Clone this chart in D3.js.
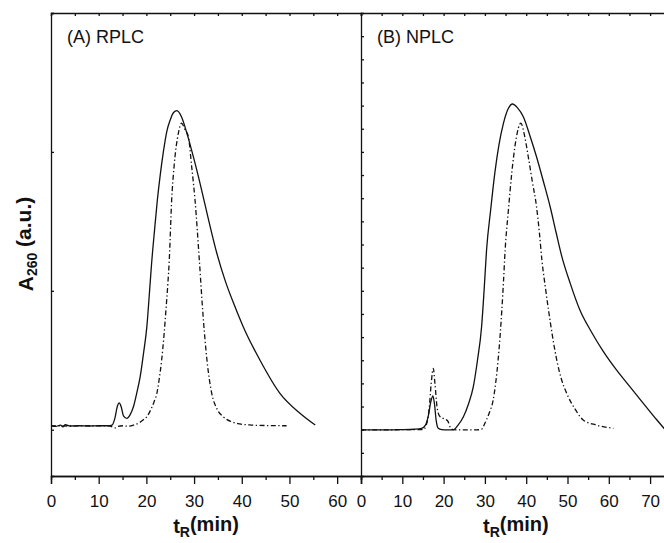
<!DOCTYPE html>
<html>
<head>
<meta charset="utf-8">
<script src="https://cdn.jsdelivr.net/npm/d3@7"></script>
<style>
  body { margin: 0; background: #fff; }
  text { font-family: "Liberation Sans", Arial, sans-serif; fill: #111; }
</style>
</head>
<body>
<div id="myplot"></div>
<script>
// chromatogram traces, [t_R (min), A260 (a.u.)]
var rplcSolid = [[0,2.18],[1,2.14],[2,2.2],[2.5,2.12],[3,2.22],[4,2.16],[6,2.17],[8,2.16],[10,2.17],[12,2.17],
  [12.8,2.2],[13.4,2.5],[13.9,3.0],[14.3,3.16],[14.7,3.0],[15.2,2.6],[15.9,2.49],[16.6,2.65],[17.3,3.0],[18,3.6],
  [18.7,4.29],[19.4,5.3],[20.1,6.45],[20.6,7.8],[21.1,9.2],[21.7,10.6],[22.3,11.92],[22.9,13.0],[23.56,14.0],
  [24.3,14.9],[25.0,15.38],[25.7,15.7],[26.4,15.78],[27.4,15.5],[28.5,14.8],[29.9,13.75],[31.3,12.6],[33.0,11.1],
  [34.8,9.6],[36.5,8.45],[38.5,7.35],[40.3,6.45],[43.8,5.01],[48.0,3.57],[52.2,2.71],[55.4,2.2]];
var rplcDash = [[0,2.17],[4,2.16],[8,2.17],[12.4,2.16],[13,2.1],[13.5,2.08],[14,2.14],[15,2.17],[16,2.15],
  [17.3,2.2],[18.5,2.3],[19.5,2.45],[20.1,2.56],[21,2.9],[21.6,3.2],[22.2,3.57],[22.7,4.2],[23.2,5.01],[23.7,6.1],
  [24.1,7.17],[24.5,8.3],[24.8,9.33],[25.3,11.92],[25.8,13.36],[26.7,14.8],[27.4,15.24],[28.0,15.0],[28.8,14.66],
  [29.5,13.36],[30.2,11.92],[31.1,9.33],[31.8,7.17],[32.7,5.01],[33.7,3.57],[34.8,2.9],[36.1,2.56],[37.8,2.35],
  [39.6,2.25],[42,2.2],[45,2.18],[49.4,2.17]];
var nplcSolid = [[0,1.99],[5,1.99],[10,2.0],[13,2.02],[14.7,2.06],[15.6,2.2],[16.3,2.6],[16.9,3.2],[17.4,3.46],
  [17.8,3.1],[18.2,2.4],[18.7,2.06],[19.5,2.0],[21,1.99],[22.3,1.99],[23.5,2.2],[24.8,2.56],[26,3.1],[27.2,3.86],
  [28.2,5.0],[29.2,6.45],[29.8,8.0],[30.4,9.76],[31.4,11.5],[32.4,13.08],[33.4,14.3],[34.5,15.24],[35.6,15.85],
  [36.7,16.07],[37.9,15.9],[39.3,15.52],[40.9,14.7],[42.5,13.79],[44.2,12.7],[45.8,11.63],[47.2,10.55],[48.6,9.5],
  [50.7,8.3],[53.0,7.17],[55.8,6.22],[58.7,5.37],[61.9,4.57],[65.1,3.86],[68.4,3.13],[71.6,2.43],[73.5,2.03]];
var nplcDash = [[0,1.99],[5,1.99],[10,2.0],[15,2.0],[15.8,2.2],[16.5,2.9],[17.0,4.0],[17.5,4.65],[17.9,4.0],
  [18.4,3.0],[19.0,2.6],[19.8,2.5],[20.5,2.45],[21.1,2.35],[21.6,2.1],[22.3,2.0],[25,1.99],[28,1.99],[29.2,2.02],
  [30.0,2.28],[31,2.7],[32.0,3.28],[32.6,4.0],[33.2,5.01],[33.7,6.1],[34.1,7.17],[34.5,8.4],[34.9,9.76],[35.7,11.5],
  [36.5,13.08],[37.5,14.5],[38.7,15.24],[39.6,14.7],[40.5,13.79],[41.5,12.7],[42.5,11.63],[43.2,10.5],[43.8,9.33],
  [44.6,8.2],[45.4,7.17],[46.4,6.0],[47.4,5.01],[48.5,4.2],[49.8,3.57],[51.8,2.9],[53.8,2.42],[57,2.2],[61.1,2.06]];

var panelLabels = ["(A) RPLC", "(B) NPLC"];
var xMaxA = 65, xMaxB = 75;
var ticksA = [0, 10, 20, 30, 40, 50, 60];
var ticksB = [0, 10, 20, 30, 40, 50, 60, 70];

var svg = d3.select('div#myplot')
  .append('svg')
  .attr('width', 664)
  .attr('height', 543);

var plotTop = 13, plotBottom = 476;
var y = d3.scaleLinear().domain([0, 20]).range([plotBottom, plotTop]);
var xA = d3.scaleLinear().domain([0, xMaxA]).range([51, 361]);
var xB = d3.scaleLinear().domain([0, xMaxB]).range([361, 361 + 75 * 4.13]);

function panel(x, majors, solid, dash, label, yTicks, yTickLen) {
  var g = svg.append('g');
  var x0 = x.range()[0], x1 = x.range()[1];

  // bottom axis: labelled majors, short minors
  g.append('g')
    .attr('transform', 'translate(0,' + plotBottom + ')')
    .call(d3.axisBottom(x).tickValues(majors).tickSize(8).tickPadding(11).tickFormat(d3.format('d')))
    .call(a => a.selectAll('text').attr('font-size', 17).attr('fill', '#111'));
  g.append('g')
    .attr('transform', 'translate(0,' + plotBottom + ')')
    .call(d3.axisBottom(x).tickValues(d3.range(5, x.domain()[1], 10)).tickSize(4).tickFormat(''));

  // top axis, ticks inward
  g.append('g')
    .attr('transform', 'translate(0,' + plotTop + ')')
    .call(d3.axisBottom(x).tickValues(d3.range(0, x.domain()[1] + 1, 5)).tickSize(3).tickFormat(''));

  // left axis, ticks inward
  g.append('g')
    .attr('transform', 'translate(' + x0 + ',0)')
    .call(d3.axisRight(y).tickValues(yTicks).tickSize(yTickLen).tickFormat(''));

  g.selectAll('.domain, .tick line').attr('stroke', '#111').attr('stroke-width', 1.3);

  var line = d3.line()
    .x(d => x(d[0]))
    .y(d => y(d[1]))
    .curve(d3.curveMonotoneX);

  g.append('path')
    .datum(dash)
    .attr('d', line)
    .attr('fill', 'none')
    .attr('stroke', '#111')
    .attr('stroke-width', 1.3)
    .attr('stroke-dasharray', '5,2.5,1.3,2.5');

  g.append('path')
    .datum(solid)
    .attr('d', line)
    .attr('fill', 'none')
    .attr('stroke', '#111')
    .attr('stroke-width', 1.3);

  g.append('text')
    .attr('x', x0 + 16).attr('y', 43)
    .attr('font-size', 18)
    .text(label);

  var t = g.append('text')
    .attr('x', (x0 + x1) / 2).attr('y', 533)
    .attr('text-anchor', 'middle')
    .attr('font-size', 20)
    .attr('font-weight', 'bold');
  t.append('tspan').text('t');
  t.append('tspan').attr('font-size', 14).attr('dy', '0.3em').text('R');
  t.append('tspan').attr('dy', '-0.3em').text('(min)');
}

panel(xA, ticksA, rplcSolid, rplcDash, panelLabels[0], [2, 8, 14, 20], 3);
panel(xB, ticksB, nplcSolid, nplcDash, panelLabels[1], d3.range(1, 20), 3);

// y axis title
var yl = svg.append('text')
  .attr('transform', 'translate(33,244) rotate(-90)')
  .attr('text-anchor', 'middle')
  .attr('font-size', 21)
  .attr('font-weight', 'bold');
yl.append('tspan').text('A');
yl.append('tspan').attr('font-size', 14).attr('dy', '0.3em').text('260');
yl.append('tspan').attr('dy', '-0.3em').text(' (a.u.)');
</script>
</body>
</html>
